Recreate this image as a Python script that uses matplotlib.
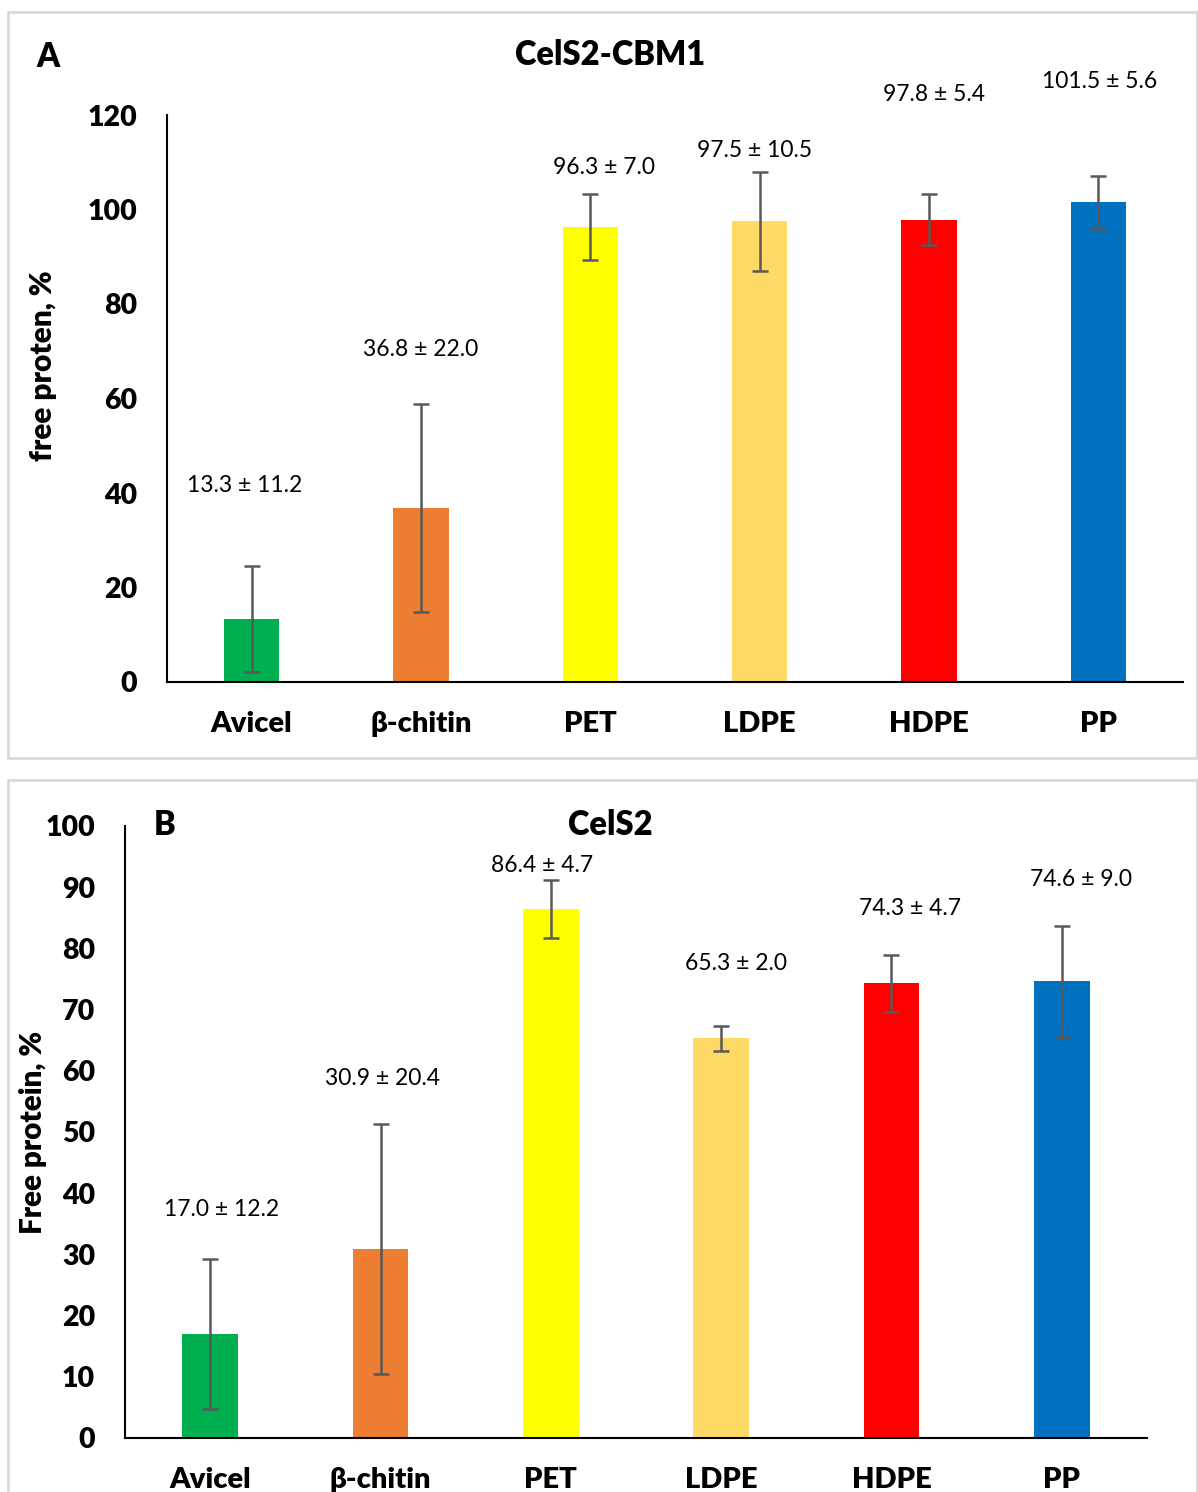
import matplotlib
matplotlib.use("Agg")
import matplotlib.pyplot as plt
from matplotlib.patches import Rectangle

plt.rcParams['font.family'] = ['Lato', 'DejaVu Sans']

categories = ["Avicel", "β-chitin", "PET", "LDPE", "HDPE", "PP"]
colors = ["#00B050", "#ED7D31", "#FFFF00", "#FFD966", "#FF0000", "#0070C0"]

# Panel A: CelS2-CBM1
vals_a = [13.3, 36.8, 96.3, 97.5, 97.8, 101.5]
err_a = [11.2, 22.0, 7.0, 10.5, 5.4, 5.6]
# Panel B: CelS2
vals_b = [17.0, 30.9, 86.4, 65.3, 74.3, 74.6]
err_b = [12.2, 20.4, 4.7, 2.0, 4.7, 9.0]

# label placement (layout only)
lab_dx_a = [-0.04, 0.0, 0.08, -0.03, 0.03, 0.01]
lab_y_a = [41.5, 70.3, 108.8, 112.4, 124.4, 127.0]
lab_dx_b = [0.065, 0.01, -0.05, 0.09, 0.11, 0.11]
lab_y_b = [37.4, 58.7, 93.5, 77.5, 86.6, 91.3]

W, H = 1198, 1492
fig = plt.figure(figsize=(W / 100, H / 100), dpi=100)
BW = "heavy"


def fx(x):
    return x / W


def fy(y):
    return 1 - y / H


# panel borders
for (x0, y0, x1, y1) in [(8, 12, 1197, 758), (8, 780, 1197, 1500)]:
    fig.patches.append(Rectangle((fx(x0), fy(y1)), fx(x1) - fx(x0), fy(y0) - fy(y1),
                                 transform=fig.transFigure, fill=False,
                                 edgecolor="#d9d9d9", linewidth=2, zorder=0))


def panel(rect, vals, errs, ymax, step, dx, ly):
    ax = fig.add_axes(rect)
    x = list(range(len(categories)))
    ax.bar(x, vals, width=0.325, color=colors, zorder=2)
    ax.errorbar(x, vals, yerr=errs, fmt="none", ecolor="#595959",
                elinewidth=1.8, capsize=6, capthick=1.8, zorder=3)
    for i, (v, e) in enumerate(zip(vals, errs)):
        ax.text(i + dx[i], ly[i], f"{v:.1f} ± {e:.1f}", ha="center", va="center",
                fontsize=16.5, color="black")
    ax.set_xlim(-0.5, len(categories) - 0.5)
    ax.set_ylim(0, ymax)
    ax.set_yticks(list(range(0, ymax + 1, step)))
    ax.set_xticks(x)
    ax.set_xticklabels(categories, fontsize=21, fontweight=BW)
    for lab in ax.get_yticklabels():
        lab.set_fontsize(20.5)
        lab.set_fontweight(BW)
    ax.tick_params(axis="both", length=0)
    ax.tick_params(axis="y", pad=21.5)
    ax.tick_params(axis="x", pad=21)
    for s in ["top", "right"]:
        ax.spines[s].set_visible(False)
    for s in ["left", "bottom"]:
        ax.spines[s].set_linewidth(1.5)
        ax.spines[s].set_color("black")
    return ax


axA = panel([fx(167), fy(682), fx(1183) - fx(167), fy(115) - fy(682)],
            vals_a, err_a, 120, 20, lab_dx_a, lab_y_a)
axB = panel([fx(125), fy(1438), fx(1147) - fx(125), fy(826) - fy(1438)],
            vals_b, err_b, 100, 10, lab_dx_b, lab_y_b)

fig.text(fx(610), fy(55), "CelS2-CBM1", ha="center", va="center", fontsize=23.5, fontweight=BW)
fig.text(fx(48), fy(57), "A", ha="center", va="center", fontsize=23.5, fontweight=BW)
fig.text(fx(610), fy(825), "CelS2", ha="center", va="center", fontsize=23.5, fontweight=BW)
fig.text(fx(165), fy(825), "B", ha="center", va="center", fontsize=23.5, fontweight=BW)
fig.text(fx(43), fy(366), "free proten, %", ha="center", va="center", rotation=90,
         fontsize=21.5, fontweight=BW)
fig.text(fx(33), fy(1132), "Free protein, %", ha="center", va="center", rotation=90,
         fontsize=21.3, fontweight=BW)

fig.savefig("out.png", dpi=100)
